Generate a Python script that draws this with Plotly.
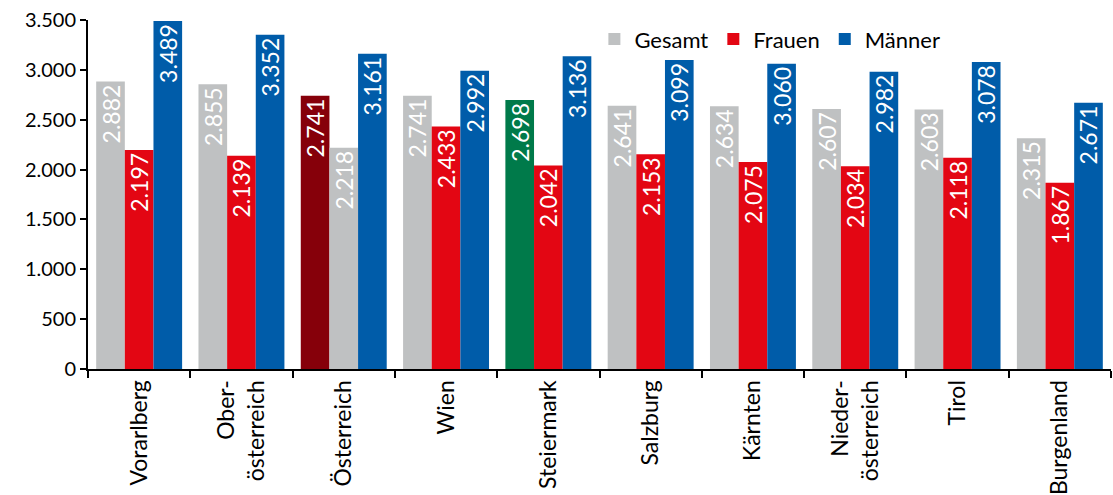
import plotly.graph_objects as go

categories = ["Vorarlberg", "Ober-<br>österreich", "Österreich", "Wien", "Steiermark",
              "Salzburg", "Kärnten", "Nieder-<br>österreich", "Tirol", "Burgenland"]
gesamt = [2882, 2855, 2741, 2741, 2698, 2641, 2634, 2607, 2603, 2315]
frauen = [2197, 2139, 2218, 2433, 2042, 2153, 2075, 2034, 2118, 1867]
maenner = [3489, 3352, 3161, 2992, 3136, 3099, 3060, 2982, 3078, 2671]

GREY = "#BFC1C2"
RED = "#E30613"
BLUE = "#005CA9"
DARKRED = "#86000A"
GREEN = "#007A4A"

gesamt_colors = [GREY] * len(categories)
gesamt_colors[2] = DARKRED
gesamt_colors[4] = GREEN
frauen_colors = [RED] * len(categories)
frauen_colors[2] = GREY

FONT = "Lato"

fig = go.Figure()
for name, vals, cols in [("Gesamt", gesamt, gesamt_colors),
                         ("Frauen", frauen, frauen_colors),
                         ("Männer", maenner, [BLUE] * len(categories))]:
    fig.add_trace(go.Bar(
        x=categories, y=vals, name=name,
        marker=dict(color=cols, line=dict(width=0)),
        texttemplate="%{y:,.0f}", textposition="inside", insidetextanchor="end",
        textangle=-90, textfont=dict(color="white", size=23, family=FONT),
        cliponaxis=False,
    ))

fig.update_layout(
    width=1113, height=495,
    margin=dict(l=88, r=2, t=20, b=126, autoexpand=False),
    barmode="group", bargap=0.16, bargroupgap=0,
    separators=",.",
    plot_bgcolor="white", paper_bgcolor="white",
    font=dict(family=FONT, size=20, color="black"),
    uniformtext=dict(minsize=23, mode="show"),
    legend=dict(orientation="h", x=0.495, xanchor="left", y=0.945, yanchor="middle",
                font=dict(size=22), bgcolor="rgba(0,0,0,0)", traceorder="normal",
                itemwidth=30),
    xaxis=dict(showline=True, linecolor="black", linewidth=2, ticks="outside",
               tickson="boundaries", ticklen=7, tickwidth=2, tickcolor="black",
               tickangle=-90, tickfont=dict(size=23), showgrid=False, automargin=False),
    yaxis=dict(range=[0, 3500], dtick=500, tickformat=",", showline=True, linecolor="black",
               linewidth=2, ticks="outside", ticklen=6, tickwidth=2, tickcolor="black",
               showgrid=False, zeroline=False, tickfont=dict(size=20), automargin=False),
)

fig.write_html("out.html", config={"displayModeBar": False},
               post_script="document.body.style.margin='0';document.body.style.overflow='hidden';")
